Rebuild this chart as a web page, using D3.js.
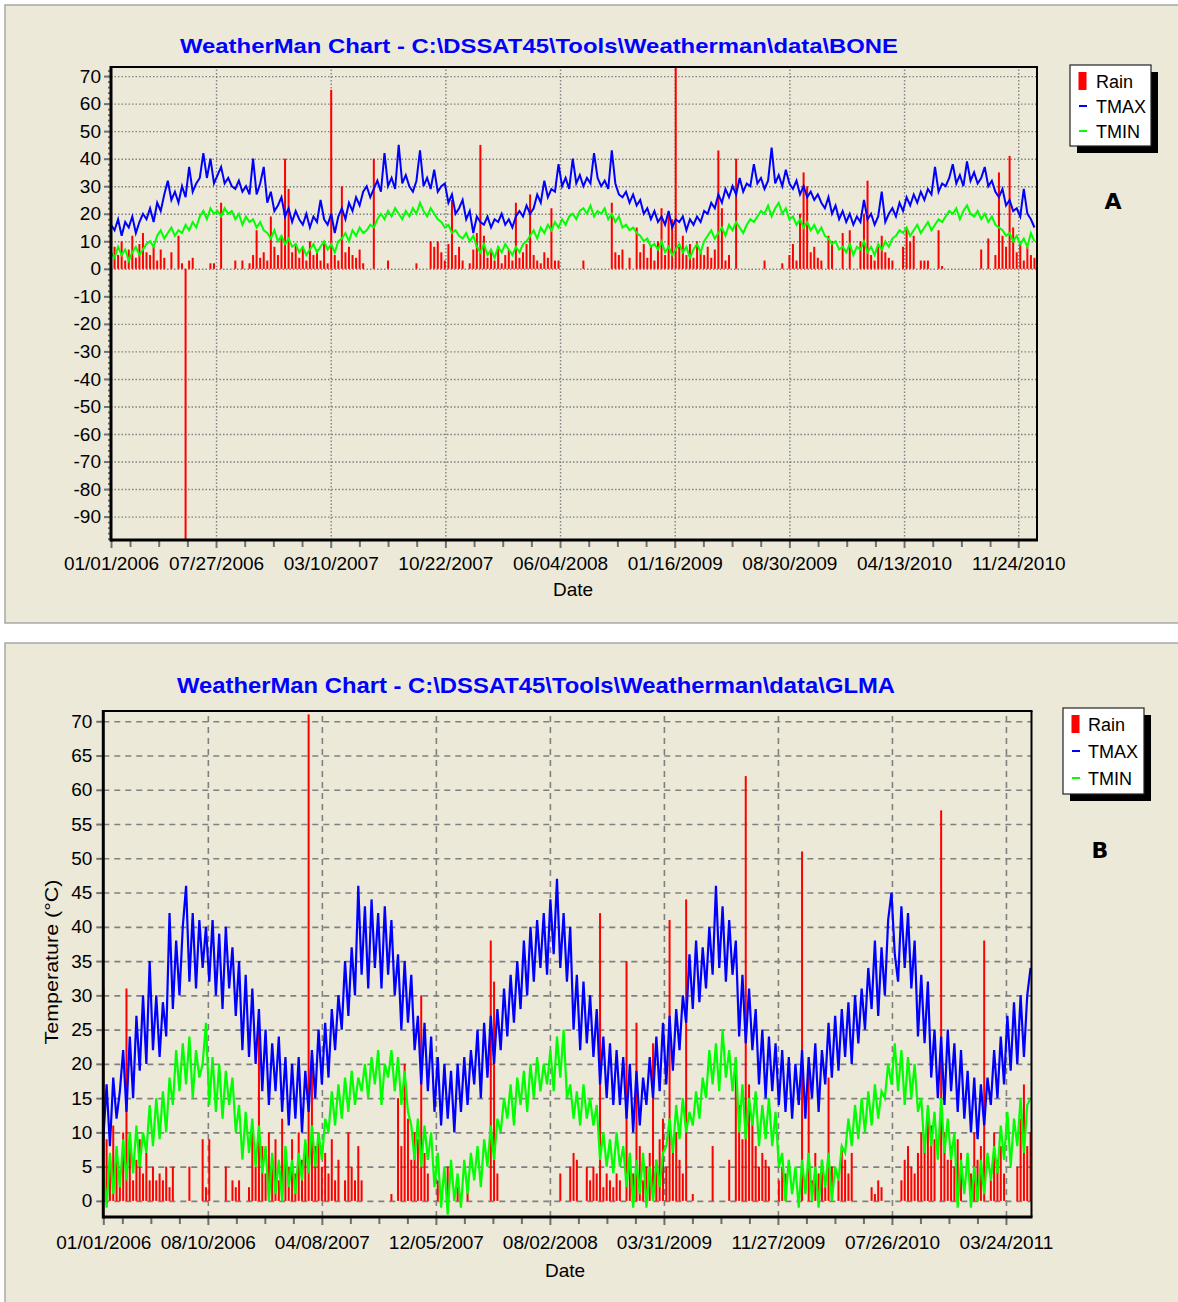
<!DOCTYPE html>
<meta charset="utf-8">
<head>
  <title>WeatherMan charts</title>
</head>

<style>
body { margin: 0; background: #ffffff; }
svg { display: block; font-family: "Liberation Sans", Arial, sans-serif; }
.panel { fill: #ece9d8; stroke: #a8a8a8; stroke-width: 1.5px; }
.title { fill: #0000ff; font-weight: bold; }
.gridA line { stroke: #808080; stroke-width: 1.4px; stroke-dasharray: 1.5,2; }
.gridB line { stroke: #808080; stroke-width: 1.6px; stroke-dasharray: 6,5; }
.grid .domain, .ax .domain { display: none; }
.ax line { stroke: #707070; stroke-width: 2px; }
.ax text { fill: #000; font-size: 19px; font-family: "Liberation Sans", Arial, sans-serif; }
.frame { stroke: #000; fill: none; }
.legend text { font-size: 18px; fill: #000; }
.panelLabel { font-family: "DejaVu Sans", Verdana, sans-serif; font-weight: bold; font-size: 22px; }
</style>

<body>
<svg width="1178" height="1302"></svg>

<script src="https://cdnjs.cloudflare.com/ajax/libs/d3/7.8.5/d3.min.js"></script>

<script>
// one value per week, starting 01/01/2006
var startDate = "01/01/2006";
var stepDays = 7;

// ---- chart A (BONE) ----
var endDateA = "12/31/2010";
var tmaxA = [
  16,14,18,12,17,15,19,13,17,20, 18,22,17,24,21,27,32,25,28,24,
  30,26,37,28,31,33,42,33,40,31, 34,37,31,33,30,29,32,28,30,27,
  40,27,31,37,24,28,21,23,26,19, 22,17,21,18,16,20,15,19,17,25,
  18,16,20,13,19,22,18,24,21,26, 23,28,30,26,29,32,28,42,30,33,
  29,45,31,34,30,28,32,43,30,33, 29,36,28,30,31,24,27,20,22,25,
  18,21,13,19,17,16,19,15,18,17, 20,16,18,15,19,21,19,23,20,22,
  27,24,32,26,29,28,38,30,33,29, 40,31,34,30,33,31,42,33,30,32,
  29,43,31,27,26,28,24,27,23,25, 20,22,18,21,17,19,16,21,15,18,
  17,19,14,18,16,19,17,21,20,24, 22,27,24,29,26,30,27,33,28,31,
  30,38,31,33,29,32,44,31,34,30, 36,31,29,32,27,30,26,28,25,27,
  24,22,26,20,23,18,21,17,20,16, 19,17,25,18,20,16,19,28,17,20,
  22,19,24,21,26,23,27,24,28,25, 29,27,37,28,31,30,33,38,31,34,
  30,39,32,35,31,33,37,30,32,28, 26,29,23,25,21,22,19,29,20,18,
  15
];
var tminA = [
  6,4,8,5,7,3,6,8,5,7, 9,10,8,12,14,11,13,15,12,14,
  13,16,14,17,15,19,21,18,22,20, 21,19,22,20,21,18,20,16,19,17,
  18,15,17,14,13,11,14,10,12,9, 11,8,9,6,8,5,7,9,6,8,
  10,7,9,6,10,11,13,10,14,12, 15,13,14,16,15,18,20,18,21,19,
  22,20,18,21,19,22,20,24,21,19, 22,20,18,17,15,16,13,14,12,11,
  13,10,12,8,6,9,5,7,4,8, 6,9,7,5,8,6,9,10,12,14,
  11,15,13,16,14,17,15,18,16,19, 20,18,21,22,20,23,19,21,20,22,
  18,20,17,19,15,16,14,15,13,12, 10,11,8,9,7,10,6,8,5,7,
  9,6,8,4,7,9,6,10,12,14, 11,13,15,12,16,14,17,15,13,16,
  18,17,19,21,20,23,19,22,24,20, 22,18,19,16,18,15,17,14,16,13,
  15,12,11,9,10,7,8,6,9,5, 8,7,10,6,8,5,9,7,10,8,
  11,12,14,13,15,12,14,16,13,15, 17,14,16,18,17,19,21,20,22,18,
  21,23,20,19,21,18,20,17,19,16, 15,14,12,13,10,12,9,11,8,13,
  10
];
var rainA = [
  22,8,5,10,3,7,12,4,9,13, 6,5,8,3,7,4,0,6,0,12,
  2,-99,3,4,0,0,0,0,2,2, 0,24,0,0,0,3,0,3,0,2,
  5,14,4,6,3,19,8,5,12,40, 29,6,9,4,8,3,10,5,7,3,
  9,2,65,5,3,30,6,8,5,4, 7,2,0,0,40,0,0,0,3,0,
  0,0,0,0,0,0,2,0,0,0, 10,8,10,6,3,9,25,5,8,3,
  0,2,7,13,45,12,4,6,3,8, 2,5,7,3,24,4,6,9,27,5,
  3,2,6,4,22,3,3,0,0,0, 0,0,0,3,0,0,0,0,0,0,
  0,24,6,5,7,0,4,0,15,6, 9,4,8,3,10,22,5,20,18,73,
  8,12,5,9,4,10,6,5,8,4, 7,43,22,3,5,0,40,0,0,0,
  0,0,0,0,3,0,0,0,0,2, 0,5,9,3,20,35,30,6,8,4,
  3,0,12,10,0,0,13,0,14,0, 0,10,20,32,5,3,8,12,6,4,
  3,0,0,8,15,10,12,0,3,3, 3,0,0,14,1,0,0,0,0,0,
  0,0,0,0,0,7,0,11,0,5, 35,12,8,41,15,6,10,3,8,5,
  4
];
var xTicksA = ["01/01/2006","07/27/2006","03/10/2007","10/22/2007","06/04/2008",
               "01/16/2009","08/30/2009","04/13/2010","11/24/2010"];
var yTicksA = [70,60,50,40,30,20,10,0,-10,-20,-30,-40,-50,-60,-70,-80,-90];
var titleA = "WeatherMan Chart - C:\\DSSAT45\\Tools\\Weatherman\\data\\BONE";

// ---- chart B (GLMA) ----
var endDateB = "05/17/2011";
var tmaxB = [
  9,17,8,18,12,16,22,13,24,15, 27,19,30,20,35,22,30,21,29,24,
  42,28,38,30,40,46,32,42,31,41, 34,40,32,41,30,39,28,40,31,37,
  27,35,22,33,21,31,20,28,16,25, 14,23,16,24,13,21,11,20,12,21,
  10,19,13,22,15,25,17,26,18,28, 22,30,25,35,27,37,30,46,33,43,
  31,44,34,42,31,43,33,41,30,36, 25,35,26,33,22,27,17,26,16,24,
  13,21,11,20,12,19,10,20,13,21, 14,22,17,25,15,26,18,27,20,28,
  22,31,24,33,26,35,28,38,30,40, 32,41,34,42,33,44,36,47,34,42,
  32,40,25,33,22,32,23,30,21,28, 17,24,15,23,14,22,14,21,12,20,
  10,19,11,18,14,21,15,24,16,26, 17,27,19,28,22,30,26,36,28,38,
  29,37,31,40,33,46,34,43,32,41, 33,38,24,33,23,31,22,28,17,25,
  15,24,16,23,14,22,13,21,12,20, 14,22,12,21,15,23,13,22,17,26,
  18,27,19,28,21,29,20,30,23,31, 25,34,28,38,27,37,30,41,45,36,
  32,43,34,42,31,38,24,33,23,32, 18,25,15,24,14,25,16,23,13,22,
  12,19,10,18,9,17,11,18,14,22, 15,24,17,27,19,29,20,30,21,30,
  34
];
var tminB = [
  5,-1,7,1,8,2,9,3,10,4, 11,5,10,7,14,8,15,9,16,10,
  18,14,22,16,23,17,24,15,22,18, 20,26,14,21,13,20,12,19,14,18,
  10,14,6,13,7,12,5,11,4,8, 0,7,1,6,0,8,2,6,1,7,
  3,9,4,11,5,10,6,12,10,16, 11,17,12,18,13,19,14,18,16,20,
  15,21,17,22,14,20,18,22,16,21, 14,19,13,11,6,12,5,11,6,10,
  2,7,-1,5,-2,6,0,4,-1,6, 1,7,3,8,2,9,5,11,6,12,
  10,15,12,17,11,18,14,19,13,20, 15,21,16,20,17,22,16,24,18,25,
  15,17,12,16,11,17,12,15,11,14, 6,10,5,9,4,10,5,8,2,7,
  -1,6,1,7,-1,5,0,6,2,7, 8,12,7,14,9,15,10,13,11,16,
  12,18,15,22,17,23,16,25,18,22, 16,21,10,17,9,15,11,16,8,14,
  9,15,8,13,5,7,0,6,1,5, -1,6,1,7,0,5,-1,6,2,7,
  0,5,3,8,7,12,8,14,9,15, 10,16,11,17,12,16,15,20,17,23,
  16,22,14,21,15,20,13,15,7,14, 8,13,6,15,7,12,6,10,-1,6,
  1,7,-1,5,0,6,1,7,3,8, 4,11,6,13,5,12,8,15,7,14,
  15
];
var rainB = [
  31,9,6,11,7,4,10,31,8,3, 6,9,4,7,3,5,3,4,3,5,
  2,5,0,0,0,0,5,0,0,0, 9,2,9,0,0,0,0,5,0,3,
  2,3,0,0,2,10,5,28,8,4, 10,6,9,3,12,7,5,9,4,10,
  6,8,71,22,8,10,5,7,4,9, 3,6,0,3,10,5,3,8,3,0,
  0,0,0,0,0,0,0,1,0,15, 8,20,12,6,10,9,30,7,4,0,
  0,3,0,0,5,0,0,2,0,0, 3,0,0,0,0,0,0,38,32,4,
  0,0,0,0,0,0,0,0,0,0, 0,0,0,0,0,0,0,0,4,0,
  0,5,7,6,0,0,5,3,5,4, 42,2,4,3,2,4,3,0,35,6,
  4,26,8,3,5,7,23,6,9,12, 5,41,8,10,6,4,44,0,1,0,
  0,0,0,0,8,0,0,0,0,6, 0,21,14,9,62,17,12,8,5,7,
  6,5,0,0,3,5,4,0,0,0, 0,51,0,19,3,7,4,6,2,18,
  5,0,3,8,6,4,7,0,0,0, 0,0,2,1,3,2,0,0,0,0,
  0,3,6,8,5,4,7,10,8,12, 11,9,0,57,10,6,8,5,9,7,
  0,0,4,10,6,8,38,0,3,10, 6,8,4,0,0,0,5,12,17,8,
  10
];
var xTicksB = ["01/01/2006","08/10/2006","04/08/2007","12/05/2007","08/02/2008",
               "03/31/2009","11/27/2009","07/26/2010","03/24/2011"];
var yTicksB = [70,65,60,55,50,45,40,35,30,25,20,15,10,5,0];
var titleB = "WeatherMan Chart - C:\\DSSAT45\\Tools\\Weatherman\\data\\GLMA";

var legendNames = ["Rain", "TMAX", "TMIN"];
var colors = {rain: "#ff0000", tmax: "#0000ff", tmin: "#00ff00"};

var parseDate = d3.utcParse("%m/%d/%Y");
var fmtDate = d3.utcFormat("%m/%d/%Y");
var svg = d3.select("svg");

function drawChart(c) {
  var start = parseDate(startDate);
  function dateAt(i) { return d3.utcDay.offset(start, stepDays * i); }

  svg.append("rect").attr("class", "panel")
    .attr("x", 5).attr("y", c.panelTop).attr("width", 1190).attr("height", c.panelHeight);

  svg.append("text").attr("class", "title")
    .attr("x", c.titleX).attr("y", c.titleY)
    .attr("text-anchor", "middle")
    .style("font-size", c.titleSize + "px")
    .attr("textLength", 718).attr("lengthAdjust", "spacingAndGlyphs")
    .text(c.title);

  var x = d3.scaleUtc().domain([start, parseDate(c.end)]).range([c.left, c.right]);
  var y = d3.scaleLinear().domain(c.yDomain).range([c.bottom, c.top]);

  var majors = c.xTicks.map(parseDate);
  var q = (majors[2] - majors[1]) / 4;
  var minors = [];
  for (var t = +majors[1] - q; t > +start + q / 3; t -= q) minors.push(new Date(t));
  for (var k = 1; k < majors.length - 1; k++)
    for (var j = 1; j < 4; j++) minors.push(new Date(+majors[k] + j * q));
  for (var t2 = +majors[majors.length - 1] + q; t2 < +x.domain()[1]; t2 += q) minors.push(new Date(t2));

  // grid
  svg.append("g").attr("class", "grid " + c.gridClass)
    .attr("transform", "translate(0," + c.bottom + ")")
    .call(d3.axisBottom(x).tickValues(majors.slice(1)).tickSize(-(c.bottom - c.top)).tickFormat(""));
  svg.append("g").attr("class", "grid " + c.gridClass)
    .attr("transform", "translate(" + c.left + ",0)")
    .call(d3.axisLeft(y).tickValues(c.yTicks).tickSize(-(c.right - c.left)).tickFormat(""));

  // series
  var clipId = "clip" + c.id;
  svg.append("clipPath").attr("id", clipId).append("rect")
    .attr("x", c.left).attr("y", c.top).attr("width", c.right - c.left).attr("height", c.bottom - c.top);
  var plot = svg.append("g").attr("clip-path", "url(#" + clipId + ")");

  plot.selectAll("rect.rain")
    .data(c.rain)
    .enter()
    .append("rect")
    .attr("class", "rain")
    .attr("x", function(d, i) { return x(dateAt(i)) - 1; })
    .attr("width", 2)
    .attr("y", function(d) { return d >= 0 ? y(d) : y(0); })
    .attr("height", function(d) { return Math.abs(y(d) - y(0)); })
    .attr("fill", colors.rain);

  var line = d3.line()
    .x(function(d, i) { return x(dateAt(i)); })
    .y(function(d) { return y(d); });

  plot.append("path").datum(c.tmax).attr("d", line)
    .attr("fill", "none").attr("stroke", colors.tmax).attr("stroke-width", c.lineWidth);
  plot.append("path").datum(c.tmin).attr("d", line)
    .attr("fill", "none").attr("stroke", colors.tmin).attr("stroke-width", c.lineWidth);

  // axes
  svg.append("g").attr("class", "ax")
    .attr("transform", "translate(0," + c.bottom + ")")
    .call(d3.axisBottom(x).tickValues(minors).tickSize(7).tickFormat(""));
  svg.append("g").attr("class", "ax")
    .attr("transform", "translate(0," + c.bottom + ")")
    .call(d3.axisBottom(x).tickValues(majors).tickSize(8).tickPadding(c.xPad).tickFormat(fmtDate));
  if (c.yMinor) {
    svg.append("g").attr("class", "ax")
      .attr("transform", "translate(" + c.left + ",0)")
      .call(d3.axisLeft(y).tickValues(c.yMinor).tickSize(3).tickFormat(""));
  }
  svg.append("g").attr("class", "ax")
    .attr("transform", "translate(" + c.left + ",0)")
    .call(d3.axisLeft(y).tickValues(c.yTicks).tickSize(7).tickPadding(c.yPad)
      .tickFormat(function(d) { return String(d); }));

  // frame
  svg.append("line").attr("class", "frame").attr("stroke-width", 2)
    .attr("x1", c.left).attr("x2", c.right + 1).attr("y1", c.top).attr("y2", c.top);
  svg.append("line").attr("class", "frame").attr("stroke-width", 2)
    .attr("x1", c.right).attr("x2", c.right).attr("y1", c.top).attr("y2", c.bottom);
  svg.append("line").attr("class", "frame").attr("stroke-width", 3)
    .attr("x1", c.left).attr("x2", c.left).attr("y1", c.top - 1).attr("y2", c.bottom + 1.5);
  svg.append("line").attr("class", "frame").attr("stroke-width", 3)
    .attr("x1", c.left).attr("x2", c.right + 1).attr("y1", c.bottom).attr("y2", c.bottom);

  svg.append("text").attr("x", c.dateX).attr("y", c.dateY)
    .attr("text-anchor", "middle").style("font-size", "19px").text("Date");

  if (c.yLabel) {
    svg.append("text")
      .attr("transform", "translate(" + c.yLabelX + "," + c.yLabelY + ") rotate(-90)")
      .attr("text-anchor", "middle").style("font-size", "19px")
      .attr("textLength", 165).attr("lengthAdjust", "spacingAndGlyphs")
      .text(c.yLabel);
  }

  // legend
  var lg = svg.append("g").attr("class", "legend");
  lg.append("rect").attr("x", c.lgX + 7).attr("y", c.lgY + 7)
    .attr("width", c.lgW).attr("height", c.lgH).attr("fill", "#000");
  lg.append("rect").attr("x", c.lgX).attr("y", c.lgY)
    .attr("width", c.lgW).attr("height", c.lgH).attr("fill", "#fff").attr("stroke", "#222").attr("stroke-width", 1.2);
  lg.append("rect").attr("x", c.lgX + 8.5).attr("y", c.lgY + 7)
    .attr("width", 8).attr("height", 18).attr("fill", colors.rain);
  lg.append("line").attr("x1", c.lgX + 9).attr("x2", c.lgX + 17)
    .attr("y1", c.lgY + c.lgRow + 16).attr("y2", c.lgY + c.lgRow + 16)
    .attr("stroke", colors.tmax).attr("stroke-width", 2);
  lg.append("line").attr("x1", c.lgX + 9).attr("x2", c.lgX + 17)
    .attr("y1", c.lgY + 2 * c.lgRow + 16).attr("y2", c.lgY + 2 * c.lgRow + 16)
    .attr("stroke", colors.tmin).attr("stroke-width", 2);
  lg.selectAll("text.item")
    .data(legendNames)
    .enter()
    .append("text")
    .attr("class", "item")
    .attr("x", c.lgX + c.lgTextDx)
    .attr("y", function(d, i) { return c.lgY + 23 + i * c.lgRow; })
    .text(function(d) { return d; });

  svg.append("text").attr("class", "panelLabel")
    .attr("x", c.labelX).attr("y", c.labelY).attr("text-anchor", "middle").text(c.label);
}

drawChart({
  id: "A", panelTop: 5, panelHeight: 618,
  title: titleA, titleX: 539, titleY: 53, titleSize: 21,
  end: endDateA, left: 111, right: 1037, top: 67, bottom: 540,
  yDomain: [-98.5, 73.3], yTicks: yTicksA,
  yMinor: d3.range(-98, 73, 2),
  xTicks: xTicksA, rain: rainA, tmax: tmaxA, tmin: tminA,
  gridClass: "gridA", lineWidth: 2, xPad: 9, yPad: 3,
  dateX: 573, dateY: 596,
  lgX: 1070, lgY: 65, lgW: 81, lgH: 81, lgRow: 25, lgTextDx: 26,
  label: "A", labelX: 1113, labelY: 209
});

drawChart({
  id: "B", panelTop: 643, panelHeight: 670,
  title: titleB, titleX: 536, titleY: 693, titleSize: 22,
  end: endDateB, left: 103.3, right: 1031.5, top: 711, bottom: 1217,
  yDomain: [-2.35, 71.5], yTicks: yTicksB, yMinor: null,
  xTicks: xTicksB, rain: rainB, tmax: tmaxB, tmin: tminB,
  gridClass: "gridB", lineWidth: 2.2, xPad: 11, yPad: 4,
  dateX: 565, dateY: 1277,
  yLabel: "Temperature (\u00b0C)", yLabelX: 58, yLabelY: 962,
  lgX: 1063, lgY: 708, lgW: 81, lgH: 86, lgRow: 27, lgTextDx: 25,
  label: "B", labelX: 1100, labelY: 858
});
</script>
</body>
</html>
